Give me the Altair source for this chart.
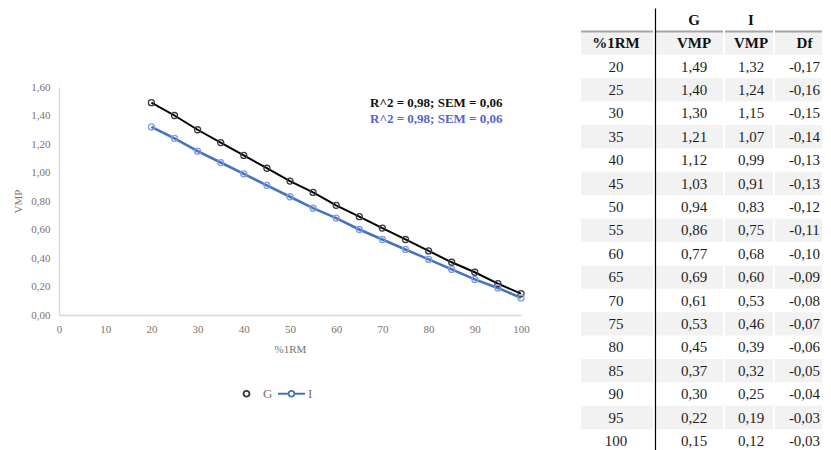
import altair as alt
import pandas as pd

# ---------------- data ----------------
pct = [20, 25, 30, 35, 40, 45, 50, 55, 60, 65, 70, 75, 80, 85, 90, 95, 100]
vmp_g = [1.49, 1.40, 1.30, 1.21, 1.12, 1.03, 0.94, 0.86, 0.77, 0.69, 0.61, 0.53, 0.45, 0.37, 0.30, 0.22, 0.15]
vmp_i = [1.32, 1.24, 1.15, 1.07, 0.99, 0.91, 0.83, 0.75, 0.68, 0.60, 0.53, 0.46, 0.39, 0.32, 0.25, 0.19, 0.12]
df_vals = [-0.17, -0.16, -0.15, -0.14, -0.13, -0.13, -0.12, -0.11, -0.10, -0.09, -0.08, -0.07, -0.06, -0.05, -0.04, -0.03, -0.03]
series_names = ["G", "I"]
fit_labels = ["R^2 = 0,98; SEM = 0,06", "R^2 = 0,98; SEM = 0,06"]
fit_anchor_x = [96, 96]
fit_anchor_y = [1.49, 1.375]
header_top = ["", "G", "I", ""]
header_sub = ["%1RM", "VMP", "VMP", "Df"]
x_ticks = [0, 10, 20, 30, 40, 50, 60, 70, 80, 90, 100]
y_ticks = [0.0, 0.2, 0.4, 0.6, 0.8, 1.0, 1.2, 1.4, 1.6]

SERIF = "Liberation Serif"
AXIS_TXT = "#7d7268"

# ---------------- line chart ----------------
long_df = pd.DataFrame({
    "pct": pct * 2,
    "vmp": vmp_g + vmp_i,
    "series": ["G"] * len(pct) + ["I"] * len(pct),
})
ann_df = pd.DataFrame({"series": series_names, "label": fit_labels,
                       "pct": fit_anchor_x, "vmp": fit_anchor_y})

xs = alt.Scale(domain=[0, 100], nice=False)
ys = alt.Scale(domain=[0, 1.6], nice=False)
x_axis = alt.Axis(
    values=x_ticks, title="%1RM", ticks=False, grid=False, labelFlush=False, labelOverlap=False,
    domainColor="#d9d9d9", domainWidth=1.5,
    labelFont=SERIF, labelFontSize=11, labelColor=AXIS_TXT, labelPadding=8,
    titleFont=SERIF, titleFontSize=11, titleFontWeight="normal", titleColor=AXIS_TXT, titlePadding=9)
y_axis = alt.Axis(
    values=y_ticks, title="VMP", ticks=False, grid=False, labelFlush=False, labelOverlap=False,
    labelExpr="replace(format(datum.value, '.2f'), '.', ',')",
    domainColor="#d9d9d9", domainWidth=1.5,
    labelFont=SERIF, labelFontSize=11, labelColor=AXIS_TXT, labelPadding=9,
    titleFont=SERIF, titleFontSize=11, titleFontWeight="normal", titleColor=AXIS_TXT, titlePadding=7)
x_enc = alt.X("pct:Q", scale=xs, axis=x_axis)
y_enc = alt.Y("vmp:Q", scale=ys, axis=y_axis)

is_g = alt.datum.series == "G"

lines = alt.Chart(long_df).mark_line().encode(
    x=x_enc, y=y_enc, detail="series:N",
    stroke=alt.condition(is_g, alt.value("#000000"), alt.value("#4472c4")),
    strokeWidth=alt.condition(is_g, alt.value(2.0), alt.value(2.6)),
)
points = alt.Chart(long_df).mark_point(filled=False, size=36, strokeWidth=1.3, opacity=1).encode(
    x=x_enc, y=y_enc,
    stroke=alt.condition(is_g, alt.value("#3a3a3a"), alt.value("#7f9edb")),
)

g_path = "M-0.22,0A0.22,0.22,0,1,0,0.22,0A0.22,0.22,0,1,0,-0.22,0Z"
i_path = "M-1,0L-0.22,0M0.22,0L1,0M-0.22,0A0.22,0.22,0,1,0,0.22,0A0.22,0.22,0,1,0,-0.22,0Z"
leg = alt.Legend(title=None, orient="none", legendX=173, legendY=371, direction="horizontal",
                 symbolSize=729, symbolStrokeWidth=1.8, symbolOpacity=1,
                 labelFont=SERIF, labelFontSize=13, labelColor=AXIS_TXT,
                 labelOffset=2, columnPadding=1)
legend_layer = alt.Chart(long_df).mark_point(filled=False, strokeWidth=1.8, opacity=0).encode(
    x=x_enc, y=y_enc,
    color=alt.Color("series:N", scale=alt.Scale(domain=series_names, range=["#333333", "#4472c4"]), legend=leg),
    shape=alt.Shape("series:N", scale=alt.Scale(domain=series_names, range=[g_path, i_path]), legend=leg),
)
ann = alt.Chart(ann_df).mark_text(align="right", baseline="middle", font=SERIF, fontSize=13,
                                  fontWeight="bold").encode(
    x=x_enc, y=y_enc,
    text="label:N",
    fill=alt.condition(is_g, alt.value("#111111"), alt.value("#5563d4")),
)

left_plot = alt.layer(lines, points, legend_layer, ann).properties(width=462, height=228)
spacer = alt.Chart(pd.DataFrame({"a": [0]})).mark_point(opacity=0).properties(width=462, height=72.5)
left = alt.vconcat(spacer, left_plot, spacing=0)

# ---------------- table ----------------
cols = ["rm", "g", "i", "df"]
recs = []
for c, t in zip(cols, header_top):
    recs.append({"row": 0, "col": c, "label": t, "weight": "bold"})
for c, t in zip(cols, header_sub):
    recs.append({"row": 1, "col": c, "label": t, "weight": "bold"})
for k in range(len(pct)):
    vals = [str(pct[k]), f"{vmp_g[k]:.2f}", f"{vmp_i[k]:.2f}", f"{df_vals[k]:.2f}"]
    for c, v in zip(cols, vals):
        recs.append({"row": k + 2, "col": c, "label": v.replace(".", ","), "weight": "normal"})
table_df = pd.DataFrame(recs)
n_rows = len(pct) + 2
row_ids = list(range(n_rows))
shade_df = pd.DataFrame({"row": [1] + [r for r in range(3, n_rows, 2)]})
rule_df = pd.DataFrame({"row": [1]})
STEP = 23.4


def column(key, width, show_line=False, dx=0):
    ax = (alt.Axis(labels=False, ticks=False, title=None, grid=False, domainColor="#000000",
                   domainWidth=1.2, zindex=2) if show_line else None)
    rs = alt.Scale(domain=row_ids, paddingInner=0, paddingOuter=0)
    shade = alt.Chart(shade_df).mark_rect(color="#f2f2f2").encode(
        y=alt.Y("row:O", scale=rs, axis=ax))
    rule = alt.Chart(rule_df).mark_rule(color="#a6a6a6", strokeWidth=2).encode(
        y=alt.Y("row:O", scale=rs, axis=ax, bandPosition=0))
    layers = [shade, rule]
    for w in ["bold", "normal"]:
        layers.append(
            alt.Chart(table_df)
            .transform_filter((alt.datum.col == key) & (alt.datum.weight == w))
            .mark_text(font=SERIF, fontSize=15, fontWeight=w,
                       color="#111111" if w == "bold" else "#1e1e1e", dx=dx)
            .encode(y=alt.Y("row:O", scale=rs, axis=ax), text="label:N")
        )
    return alt.layer(*layers).properties(width=width, height=STEP * n_rows)


table = alt.hconcat(
    column("rm", 72, dx=-1),
    column("g", 68, show_line=True, dx=5),
    column("i", 48, dx=2),
    column("df", 47, dx=6),
    spacing=0,
)

chart = alt.hconcat(left, table, spacing=50).properties(
    padding={"left": 4, "top": 0, "right": 0, "bottom": 0}
).configure_view(stroke=None)

chart.save("out.html", embed_options={"renderer": "svg", "actions": False})
